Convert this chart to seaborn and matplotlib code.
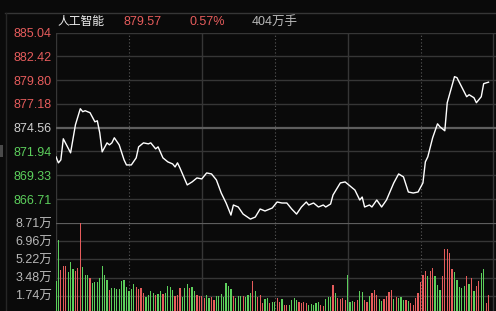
import matplotlib
matplotlib.use("Agg")
import matplotlib.pyplot as plt
from matplotlib.lines import Line2D
from matplotlib.patches import Rectangle
import seaborn as sns
import pandas as pd

# ---------------- data ----------------
title_name = "人工智能"
title_price = "879.57"
title_pct = "0.57%"
title_volume = "404万手"

prev_close = 874.56
price_top = 885.04
price_bottom = 864.09
price_ticks = [885.04, 882.42, 879.80, 877.18, 874.56, 871.94, 869.33, 866.71]
price_tick_labels = ["885.04", "882.42", "879.80", "877.18", "874.56", "871.94", "869.33", "866.71"]

vol_top = 8.71
vol_ticks = [8.71, 6.96, 5.22, 3.48, 1.74]
vol_tick_labels = ["8.71万", "6.96万", "5.22万", "3.48万", "1.74万"]

# price line vertices (minute of session, price)
line_minutes = [0, 1, 2, 3, 6, 8, 10, 11, 12, 14, 16, 17, 18, 19, 21, 22, 23, 24, 26, 28,
                29, 31, 33, 34, 36, 38, 39, 41, 42, 44, 46, 48, 49, 50, 51, 54, 56, 58, 60, 62,
                64, 66, 68, 70, 72, 73, 75, 77, 80, 82, 84, 86, 89, 91, 93, 95, 97, 99, 101, 103,
                104, 106, 108, 110, 111, 113, 114, 117, 119, 122, 123, 125, 126, 127, 129, 130, 132, 134, 136, 139,
                141, 143, 145, 147, 149, 151, 152, 153, 155, 157, 158, 160, 161, 164, 165, 169, 170, 172, 173, 175,
                176, 178]
line_prices = [871.35, 870.69, 871.02, 873.34, 871.79, 874.88, 876.65, 876.32, 876.43, 876.21,
               875.21, 875.32, 874.00, 871.90, 872.89, 872.67, 872.89, 873.45, 872.67, 871.02,
               870.46, 870.46, 871.24, 872.45, 872.89, 872.78, 872.89, 872.23, 872.45, 871.24,
               870.80, 870.57, 870.24, 870.69, 870.13, 868.26, 868.59, 869.03, 868.92, 869.58,
               869.47, 868.81, 867.37, 866.27, 864.94, 866.05, 865.83, 865.05, 864.50, 864.72,
               865.61, 865.39, 865.72, 866.38, 866.27, 866.27, 865.61, 865.05, 865.83, 866.38,
               866.05, 866.27, 865.83, 866.05, 865.83, 866.16, 867.15, 868.48, 868.59, 867.92,
               867.70, 866.60, 866.93, 865.83, 866.05, 865.83, 866.60, 865.83, 866.60, 868.48,
               869.47, 869.14, 867.48, 867.37, 867.48, 868.48, 870.80, 871.35, 873.45, 874.99,
               874.66, 874.22, 877.31, 880.18, 880.07, 877.97, 878.19, 877.86, 877.31, 877.97,
               879.41, 879.57]

# per-minute volume (万手) and direction (r = up, g = down)
vol_values = [3.2, 7.1, 4.2, 4.6, 4.6, 4.0, 5.0, 4.3, 4.1, 4.4,
              8.7, 4.5, 3.7, 3.7, 3.4, 3.0, 3.1, 3.1, 3.4, 4.6,
              3.7, 3.3, 2.3, 2.5, 2.5, 2.4, 2.4, 3.2, 3.3, 2.6,
              2.2, 2.4, 2.9, 2.6, 2.4, 2.5, 2.0, 1.6, 1.8, 2.2,
              2.0, 1.8, 1.9, 2.2, 1.9, 2.0, 2.7, 2.6, 2.3, 1.7,
              1.8, 2.5, 1.6, 2.5, 2.9, 2.5, 2.6, 2.2, 1.8, 1.7,
              1.7, 1.5, 1.8, 1.5, 1.6, 1.35, 1.7, 1.7, 1.9, 1.6,
              3.0, 2.7, 2.4, 1.7, 1.5, 1.7, 1.7, 1.7, 1.6, 1.8,
              2.0, 3.12, 2.16, 1.61, 1.84, 1.03, 1.42, 1.52, 1.03, 1.19,
              1.19, 1.52, 1.19, 1.42, 0.87, 0.87, 0.87, 1.35, 1.52, 1.35,
              1.19, 1.03, 1.19, 1.03, 0.87, 0.94, 0.87, 1.03, 1.19, 0.87,
              0.77, 1.42, 1.61, 1.61, 2.80, 2.0, 1.52, 1.42, 1.52, 1.35,
              3.77, 1.19, 1.29, 1.19, 1.35, 2.16, 2.06, 1.35, 1.19, 1.74,
              2.0, 2.26, 1.84, 1.42, 1.29, 1.42, 1.74, 2.06, 2.32, 1.42,
              1.61, 1.52, 1.61, 1.35, 1.35, 1.29, 1.09, 0.87, 1.52, 2.0,
              3.03, 3.77, 4.09, 3.61, 4.09, 4.42, 3.61, 2.80, 2.26, 3.61,
              6.19, 6.25, 5.87, 4.32, 3.99, 3.29, 2.58, 2.48, 2.64, 3.67,
              2.90, 3.45, 2.16, 2.71, 3.12, 3.93, 4.32, 1.03, 1.84]
vol_dirs = ("ggrrrgggrr" "rgggrggggg" "ggrggggggg" "gggrrrrggg" "grggrggggr"
            "rrgggrggrr" "rrggrrgggg" "gggrgggrgg" "grgrrrggrg" "grrgrrgggg"
            "rrrrgggggr" "rgggrgrrrr" "gggrrggrrg" "rrrggrrrrg" "rgggrgrrrr"
            "rrrgrrgggr" "rrrrgggggr" "grgrrggrr")

# ---------------- style ----------------
BG = "#0a0a0a"
GRID = "#363636"
GRID_STRONG = "#5e5e5e"
RED = "#e65c5c"
GREEN = "#5ccf5c"
GRAY_TXT = "#b8b8b8"
NUM_FONT = ["Liberation Sans", "Noto Sans CJK SC"]
CJK_FONT = ["Noto Sans CJK SC", "Liberation Sans"]

W, H = 496, 311
fig = plt.figure(figsize=(W / 100, H / 100), dpi=100, facecolor=BG)


def fx(px):
    return px / W


def fy(py):
    return 1 - py / H


left_px = 56.0
px_per_min = 72.9 / 30
axis_w = 240 * px_per_min

ax_p = fig.add_axes([fx(left_px), fy(222.8), axis_w / W, (222.8 - 32.5) / H])
ax_v = fig.add_axes([fx(left_px), fy(314.0), axis_w / W, (314.0 - 223.0) / H])

for ax in (ax_p, ax_v):
    ax.set_facecolor(BG)
    for s in ax.spines.values():
        s.set_visible(False)
    ax.set_xlim(0, 240)
    ax.set_xticks([])
    ax.tick_params(axis="y", length=0, pad=3)
    # vertical grid
    ax.axvline(0, color=GRID, lw=1.0, zorder=0)
    for m in (30, 90, 150, 210):
        ax.axvline(m, color="#5a5a5a", lw=0.8, ls=(0, (1, 2)), zorder=0)
    for m in (60, 120, 180):
        ax.axvline(m, color=GRID, lw=1.0, zorder=0)

# price panel
for v in price_ticks:
    if abs(v - prev_close) < 1e-6:
        ax_p.axhline(v, color=GRID_STRONG, lw=1.6, zorder=0)
    else:
        ax_p.axhline(v, color=GRID, lw=1.0, zorder=0)

sns.lineplot(x=line_minutes, y=line_prices, ax=ax_p, color="white", lw=1.0,
             estimator=None, sort=False, zorder=3)
ax_p.set_ylim(price_bottom, price_top)
ax_p.set_yticks(price_ticks)
ax_p.set_yticklabels(price_tick_labels, family=NUM_FONT, fontsize=9)
for lbl, v in zip(ax_p.get_yticklabels(), price_ticks):
    if v > prev_close + 1e-6:
        lbl.set_color(RED)
    elif v < prev_close - 1e-6:
        lbl.set_color(GREEN)
    else:
        lbl.set_color("#d0d0d0")
ax_p.set_xlabel("")
ax_p.set_ylabel("")
ax_p.set_xlim(0, 240)

# volume panel
df = pd.DataFrame({"minute": list(range(len(vol_values))), "vol": vol_values,
                   "dir": list(vol_dirs)})
for v in vol_ticks:
    if abs(v - vol_top) < 1e-6:
        ax_v.axhline(v, color=GRID_STRONG, lw=1.6, zorder=0)
    else:
        ax_v.axhline(v, color=GRID, lw=1.0, zorder=0)
sns.barplot(data=df, x="minute", y="vol", hue="dir", palette={"r": RED, "g": GREEN},
            native_scale=True, dodge=False, width=0.5, legend=False, ax=ax_v,
            linewidth=0, saturation=1, zorder=2)
ax_v.set_ylim(0, vol_top)
ax_v.set_xlim(0, 240)
ax_v.set_xticks([])
ax_v.set_xlabel("")
ax_v.set_ylabel("")
ax_v.set_yticks(vol_ticks)
ax_v.set_yticklabels(vol_tick_labels, family=NUM_FONT, fontsize=9, color=GRAY_TXT)
ax_v.tick_params(axis="y", length=0, pad=3)

# frame decorations
fig.add_artist(Line2D([fx(5), 1], [fy(13), fy(13)], transform=fig.transFigure,
                      color=GRID, lw=1.0))
fig.add_artist(Line2D([fx(5.5), fx(5.5)], [fy(13), 0], transform=fig.transFigure,
                      color="#262626", lw=1.0))
fig.add_artist(Rectangle((0, fy(157)), fx(3), 12 / H, transform=fig.transFigure,
                         color="#4a4a4a", lw=0))

# header
fig.text(fx(57), fy(22), title_name, family=CJK_FONT, fontsize=8.5, color="#f0f0f0",
         va="center", ha="left")
fig.text(fx(124), fy(22), title_price, family=NUM_FONT, fontsize=9, color=RED,
         va="center", ha="left")
fig.text(fx(190), fy(22), title_pct, family=NUM_FONT, fontsize=9, color=RED,
         va="center", ha="left")
fig.text(fx(252), fy(22), title_volume, family=NUM_FONT, fontsize=9, color=GRAY_TXT,
         va="center", ha="left")

fig.savefig("out.png", dpi=100, facecolor=BG)
